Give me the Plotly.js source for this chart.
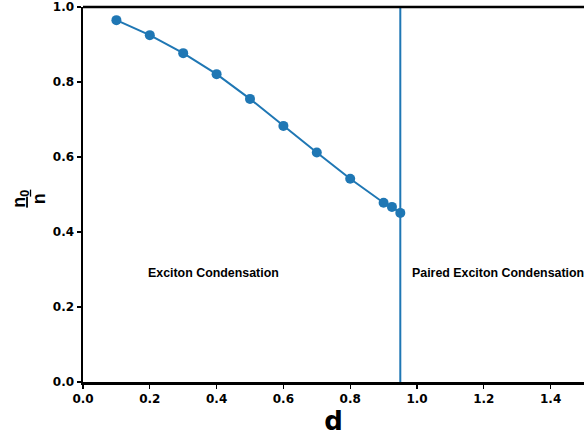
<!DOCTYPE html>
<html>
<head>
<meta charset="utf-8">
<script src="https://cdn.plot.ly/plotly-3.0.1.min.js"></script>
<style>html,body{margin:0;padding:0;background:#fff;}#chart{width:584px;height:436px;}</style>
</head>
<body>
<div id="chart"></div>
<script>
const dValues = [0.1, 0.2, 0.3, 0.4, 0.5, 0.6, 0.7, 0.8, 0.9, 0.925, 0.95];
const fractionValues = [0.965, 0.925, 0.877, 0.821, 0.755, 0.683, 0.612, 0.542, 0.478, 0.467, 0.451];
const boundaryX = [0.95, 0.95];
const boundaryY = [0, 1];
const xTicks = [0, 0.2, 0.4, 0.6, 0.8, 1.0, 1.2, 1.4];
const xTickLabels = ['0.0', '0.2', '0.4', '0.6', '0.8', '1.0', '1.2', '1.4'];
const yTicks = [0, 0.2, 0.4, 0.6, 0.8, 1.0];
const yTickLabels = ['0.0', '0.2', '0.4', '0.6', '0.8', '1.0'];
const regionLabels = ['Exciton Condensation', 'Paired Exciton Condensation'];
const regionX = [0.39, 0.98];
const regionY = [0.29, 0.29];
const yLabelNumerator = '<b><u>n<sub>0</sub></u></b>';
const yLabelDenominator = '<b>n</b>';

const blue = '#1f77b4';
const traces = [
  {x: dValues, y: fractionValues, mode: 'lines+markers', type: 'scatter',
   line: {color: blue, width: 2}, marker: {color: blue, size: 10}, cliponaxis: false},
  {x: boundaryX, y: boundaryY, mode: 'lines', type: 'scatter',
   line: {color: blue, width: 2}}
];
const tickFont = {family: 'DejaVu Sans', size: 12, color: '#000', weight: 'bold'};
const regionAnnotations = regionLabels.map((t, i) => ({
  x: regionX[i], y: regionY[i], xref: 'x', yref: 'y', text: '<b>' + t + '</b>',
  showarrow: false, xanchor: i === 0 ? 'center' : 'left',
  font: {family: 'Liberation Sans', size: 12.4, color: '#000'}
}));
const labelFont = {family: 'Liberation Sans', size: 18, color: '#000'};
const layout = {
  width: 584, height: 436,
  margin: {l: 83, r: 0, t: 7, b: 54},
  showlegend: false,
  paper_bgcolor: '#fff', plot_bgcolor: '#fff',
  xaxis: {range: [0, 1.5], tickvals: xTicks, ticktext: xTickLabels,
    showgrid: false, zeroline: false, showline: true, linecolor: '#000', linewidth: 2.5,
    ticks: 'outside', ticklen: 4, tickwidth: 1.2, tickcolor: '#000',
    tickfont: tickFont,
    title: {text: '<b>d</b>', font: {family: 'DejaVu Sans', size: 26, color: '#000'}, standoff: 2}},
  yaxis: {range: [0, 1], tickvals: yTicks, ticktext: yTickLabels,
    showgrid: false, zeroline: false, showline: true, linecolor: '#000', linewidth: 2.5,
    ticks: 'outside', ticklen: 4, tickwidth: 1.2, tickcolor: '#000',
    tickfont: tickFont},
  shapes: [{type: 'line', xref: 'paper', yref: 'paper', x0: 0, x1: 1, y0: 1, y1: 1,
    line: {color: '#000', width: 2.5}}],
  annotations: regionAnnotations.concat([
    {xref: 'paper', yref: 'paper', x: -0.125, y: 0.49, xanchor: 'center', yanchor: 'middle',
     text: yLabelNumerator, textangle: -90, showarrow: false, font: labelFont},
    {xref: 'paper', yref: 'paper', x: -0.088, y: 0.49, xanchor: 'center', yanchor: 'middle',
     text: yLabelDenominator, textangle: -90, showarrow: false, font: labelFont}
  ])
};
Plotly.newPlot('chart', traces, layout, {displayModeBar: false, staticPlot: true});
</script>
</body>
</html>
